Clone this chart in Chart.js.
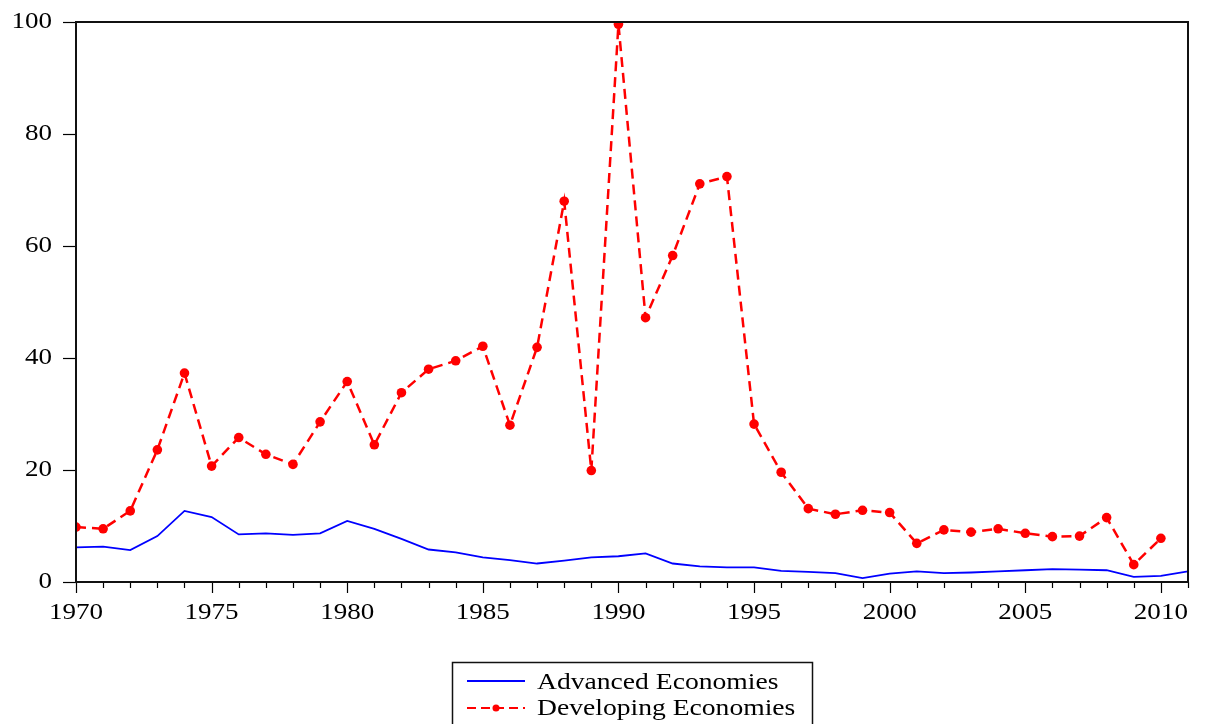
<!DOCTYPE html>
<html>
<head>
<meta charset="utf-8">
<script src="https://cdn.jsdelivr.net/npm/chart.js@4.4.0/dist/chart.umd.min.js"></script>
<style>
  html, body { margin: 0; padding: 0; background: #fff; }
  #wrap { width: 1206px; height: 724px; }
</style>
</head>
<body>
<div id="wrap"><canvas id="chart" width="1206" height="724"></canvas></div>
<script>
// data
const years = [];
for (let y = 1970; y <= 2011; y++) years.push(y);

const advanced = [6.2, 6.3, 5.7, 8.2, 12.7, 11.6, 8.5, 8.7, 8.4, 8.7,
  10.9, 9.5, 7.7, 5.8, 5.3, 4.4, 3.9, 3.3, 3.8, 4.4,
  4.6, 5.1, 3.3, 2.8, 2.6, 2.6, 2.0, 1.8, 1.6, 0.7,
  1.5, 1.9, 1.6, 1.7, 1.9, 2.1, 2.3, 2.2, 2.1, 0.9,
  1.1, 1.9];

const developing = [9.8, 9.5, 12.7, 23.6, 37.3, 20.7, 25.8, 22.8, 21.0, 28.6,
  35.8, 24.5, 33.8, 38.0, 39.5, 42.1, 28.0, 41.9, 68.0, 19.9,
  99.6, 47.2, 58.3, 71.1, 72.4, 28.2, 19.6, 13.1, 12.1, 12.8,
  12.4, 6.9, 9.3, 8.9, 9.5, 8.7, 8.1, 8.2, 11.5, 3.1,
  7.8];

const yTicks = [0, 20, 40, 60, 80, 100];
const xMajor = [1970, 1975, 1980, 1985, 1990, 1995, 2000, 2005, 2010];

const FONT = '"Liberation Serif", "Times New Roman", serif';
const STRETCH = 1.15; // the original type is a bit wide

function wideText(c, txt, x, y, align) {
  c.save();
  c.translate(x, y);
  c.scale(STRETCH, 1);
  c.textAlign = align;
  c.fillText(txt, 0, 0);
  c.restore();
}

// frame, ticks, tick labels and legend box
const framePlugin = {
  id: 'frame',
  afterDraw(chart) {
    const c = chart.ctx;
    const a = chart.chartArea;
    const xs = chart.scales.x;
    const ys = chart.scales.y;
    c.save();
    c.strokeStyle = '#000';
    c.fillStyle = '#000';
    c.textBaseline = 'alphabetic';

    // x ticks (minor every year, major every 5)
    c.lineWidth = 1.2;
    for (let y = 1970; y <= 2011; y++) {
      const px = Math.round(xs.getPixelForValue(y)) + 0.5;
      const len = xMajor.includes(y) ? 11 : 6;
      c.beginPath();
      c.moveTo(px, a.bottom);
      c.lineTo(px, a.bottom + len);
      c.stroke();
    }
    c.font = '23.5px ' + FONT;
    xMajor.forEach(v => {
      wideText(c, String(v), xs.getPixelForValue(v), a.bottom + 37, 'center');
    });

    // y ticks
    yTicks.forEach(v => {
      const py = Math.round(ys.getPixelForValue(v)) + 0.5;
      c.beginPath();
      c.moveTo(a.left - 13, py);
      c.lineTo(a.left, py);
      c.stroke();
      wideText(c, String(v), a.left - 24, py + 5, 'right');
    });

    // frame
    c.lineWidth = 2;
    c.strokeStyle = '#111';
    c.strokeRect(a.left, a.top, a.right - a.left, a.bottom - a.top);

    // legend
    const lx = 452.5, ly = 662.5;
    c.lineWidth = 1.5;
    c.strokeRect(lx, ly, 360, 80);
    c.font = '24px ' + FONT;
    const ds = chart.data.datasets;

    c.strokeStyle = ds[0].borderColor;
    c.lineWidth = 1.8;
    c.beginPath();
    c.moveTo(467, 681);
    c.lineTo(525, 681);
    c.stroke();
    wideText(c, ds[0].label, 537, 689, 'left');

    c.strokeStyle = ds[1].borderColor;
    c.lineWidth = 2;
    c.setLineDash([9, 5]);
    c.beginPath();
    c.moveTo(467, 708);
    c.lineTo(525, 708);
    c.stroke();
    c.setLineDash([]);
    c.fillStyle = ds[1].pointBackgroundColor;
    c.beginPath();
    c.arc(496, 708, 3.5, 0, Math.PI * 2);
    c.fill();
    c.fillStyle = '#000';
    wideText(c, ds[1].label, 537, 715, 'left');
    c.restore();
  }
};

const ctx = document.getElementById('chart').getContext('2d');

new Chart(ctx, {
  type: 'line',
  data: {
    datasets: [{
      label: 'Advanced Economies',
      data: years.map((y, i) => ({ x: y, y: advanced[i] })),
      borderColor: '#0000ff',
      borderWidth: 1.8,
      pointRadius: 0,
      tension: 0
    }, {
      label: 'Developing Economies',
      data: developing.map((v, i) => ({ x: years[i], y: v })),
      borderColor: '#ff0000',
      backgroundColor: '#ff0000',
      pointBackgroundColor: '#ff0000',
      pointBorderColor: '#ff0000',
      borderWidth: 2.5,
      borderDash: [10, 6],
      pointRadius: 4.8,
      pointBorderWidth: 0,
      tension: 0
    }]
  },
  options: {
    responsive: false,
    animation: false,
    layout: { padding: { top: 22, right: 18, left: 0, bottom: 0 } },
    plugins: {
      legend: { display: false },
      tooltip: { enabled: false }
    },
    scales: {
      x: {
        type: 'linear',
        min: 1970,
        max: 2011,
        afterFit(s) { s.height = 142; },
        afterBuildTicks(s) { s.ticks = xMajor.map(v => ({ value: v })); },
        grid: { display: false, drawTicks: false },
        border: { display: false },
        ticks: { display: false }
      },
      y: {
        min: 0,
        max: 100,
        afterFit(s) { s.width = 76; },
        afterBuildTicks(s) { s.ticks = yTicks.map(v => ({ value: v })); },
        grid: { display: false, drawTicks: false },
        border: { display: false },
        ticks: { display: false }
      }
    }
  },
  plugins: [framePlugin]
});
</script>
</body>
</html>
